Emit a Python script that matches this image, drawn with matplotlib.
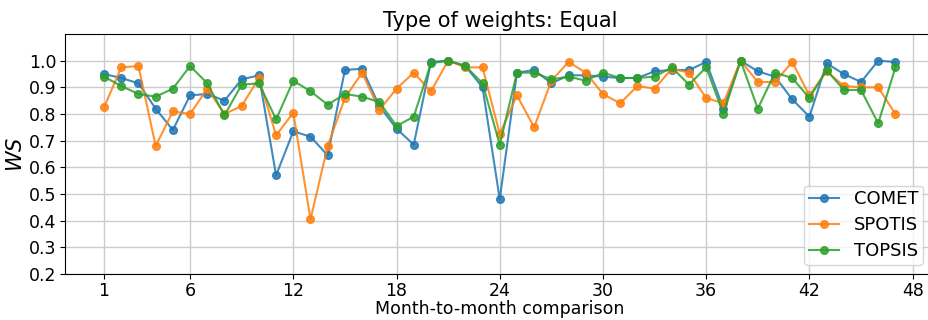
import numpy as np
import matplotlib
matplotlib.use("Agg")
import matplotlib.pyplot as plt

months = np.arange(1, 48)

comet = [0.95, 0.935, 0.915, 0.82, 0.74, 0.87, 0.875, 0.85, 0.93, 0.945,
         0.57, 0.735, 0.715, 0.645, 0.965, 0.97, 0.83, 0.745, 0.685, 0.995,
         1.0, 0.98, 0.90, 0.48, 0.955, 0.965, 0.915, 0.945, 0.945, 0.94,
         0.935, 0.935, 0.96, 0.965, 0.965, 0.995, 0.82, 1.0, 0.96, 0.94,
         0.855, 0.79, 0.99, 0.95, 0.92, 1.0, 0.995]
spotis = [0.825, 0.975, 0.98, 0.68, 0.81, 0.80, 0.895, 0.80, 0.83, 0.935,
          0.72, 0.805, 0.405, 0.68, 0.86, 0.955, 0.815, 0.895, 0.955, 0.885,
          1.0, 0.975, 0.975, 0.725, 0.87, 0.75, 0.925, 0.995, 0.955, 0.875,
          0.84, 0.905, 0.895, 0.97, 0.955, 0.86, 0.84, 1.0, 0.92, 0.92,
          0.995, 0.87, 0.96, 0.905, 0.90, 0.90, 0.80]
topsis = [0.94, 0.905, 0.875, 0.865, 0.895, 0.98, 0.915, 0.795, 0.91, 0.915,
          0.78, 0.925, 0.885, 0.835, 0.875, 0.865, 0.845, 0.755, 0.79, 0.99,
          1.0, 0.98, 0.915, 0.685, 0.955, 0.955, 0.93, 0.94, 0.925, 0.955,
          0.935, 0.935, 0.94, 0.975, 0.91, 0.975, 0.80, 1.0, 0.82, 0.955,
          0.935, 0.86, 0.965, 0.89, 0.89, 0.765, 0.975]

series = {"COMET": comet, "SPOTIS": spotis, "TOPSIS": topsis}
xticks = [1, 6, 12, 18, 24, 30, 36, 42, 48]
yticks = np.arange(0.2, 1.01, 0.1)

fig = plt.figure(figsize=(9.29, 3.2), dpi=100)
# right part of the axes is cut off in the reference
ax = fig.add_axes([65 / 929, 46 / 320, 870 / 929, 240 / 320])

for name, vals in series.items():
    ax.plot(months, vals, "-o", markersize=5.5, linewidth=1.5, alpha=0.85, label=name)

ax.set_xticks(xticks)
ax.set_yticks(yticks)
ax.set_xlim(-1.27, 49.3)
ax.set_ylim(0.2, 1.1)
ax.tick_params(labelsize=12.5, pad=2.5)
ax.grid(True, color="#cccccc", linewidth=1)
ax.set_axisbelow(True)
ax.set_xlabel("Month-to-month comparison", fontsize=12.5, labelpad=0)
ax.set_ylabel("$WS$", fontsize=15, labelpad=2)
ax.set_title("Type of weights: Equal", fontsize=15, pad=5)
ax.legend(loc="lower right", fontsize=13, bbox_to_anchor=(0.9965, 0.0),
          borderpad=0.25, labelspacing=0.45, handlelength=1.7)

plt.savefig("out.png", dpi=100)
